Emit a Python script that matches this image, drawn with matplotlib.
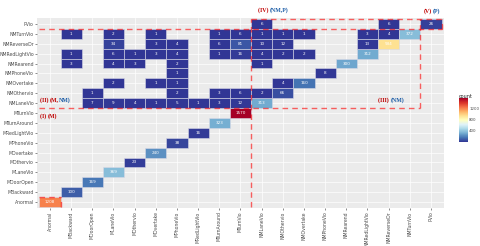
import matplotlib
matplotlib.use("Agg")
import matplotlib.pyplot as plt
import pandas as pd
from matplotlib.colors import Normalize
from matplotlib.cm import ScalarMappable

categories = ["Anormal", "MBackward", "MDoorOpen", "MLaneVio", "MOthervio", "MOvertake",
              "MPhoneVio", "MRedLightVio", "MTurnAround", "MTurnVio", "NMLaneVio",
              "NMOthervio", "NMOvertake", "NMPhoneVio", "NMRearend", "NMRedLightVio",
              "NMReverseDr", "NMTurnVio", "PVio"]

# one entry per filled tile: row (y) category, column (x) category, count
cell_y = (["Anormal", "MBackward", "MDoorOpen", "MLaneVio", "MOthervio", "MOvertake",
           "MPhoneVio", "MRedLightVio", "MTurnAround", "MTurnVio"]
          + ["NMLaneVio"] * 9
          + ["NMOthervio"] * 6
          + ["NMOvertake"] * 5
          + ["NMPhoneVio"] * 2
          + ["NMRearend"] * 6
          + ["NMRedLightVio"] * 11
          + ["NMReverseDr"] * 9
          + ["NMTurnVio"] * 11
          + ["PVio"] * 3)
cell_x = (["Anormal", "MBackward", "MDoorOpen", "MLaneVio", "MOthervio", "MOvertake",
           "MPhoneVio", "MRedLightVio", "MTurnAround", "MTurnVio"]
          + ["MDoorOpen", "MLaneVio", "MOthervio", "MOvertake", "MPhoneVio", "MRedLightVio",
             "MTurnAround", "MTurnVio", "NMLaneVio"]
          + ["MDoorOpen", "MPhoneVio", "MTurnAround", "MTurnVio", "NMLaneVio", "NMOthervio"]
          + ["MLaneVio", "MOvertake", "MPhoneVio", "NMOthervio", "NMOvertake"]
          + ["MPhoneVio", "NMPhoneVio"]
          + ["MBackward", "MLaneVio", "MOthervio", "MPhoneVio", "NMLaneVio", "NMRearend"]
          + ["MBackward", "MLaneVio", "MOthervio", "MOvertake", "MPhoneVio", "MTurnAround",
             "MTurnVio", "NMLaneVio", "NMOthervio", "NMOvertake", "NMRedLightVio"]
          + ["MLaneVio", "MOvertake", "MPhoneVio", "MTurnAround", "MTurnVio", "NMLaneVio",
             "NMOthervio", "NMRedLightVio", "NMReverseDr"]
          + ["MBackward", "MLaneVio", "MOvertake", "MTurnAround", "MTurnVio", "NMLaneVio",
             "NMOthervio", "NMOvertake", "NMRedLightVio", "NMReverseDr", "NMTurnVio"]
          + ["NMLaneVio", "NMReverseDr", "PVio"])
cell_count = ([1208, 100, 169, 369, 23, 240, 38, 16, 323, 1570]
              + [7, 9, 4, 1, 5, 1, 3, 12, 313]
              + [1, 2, 3, 6, 2, 66]
              + [2, 1, 1, 4, 160]
              + [1, 8]
              + [3, 4, 3, 2, 1, 300]
              + [1, 6, 1, 3, 4, 1, 16, 4, 2, 2, 312]
              + [34, 3, 4, 6, 81, 10, 12, 13, 934]
              + [1, 2, 1, 1, 6, 1, 1, 1, 3, 4, 372]
              + [6, 6, 26])

df = pd.DataFrame({"y": cell_y, "x": cell_x, "count": cell_count})
pos = {c: i for i, c in enumerate(categories)}
df["xi"] = df["x"].map(pos)
df["yi"] = df["y"].map(pos)

cmap = plt.get_cmap("RdYlBu_r")
norm = Normalize(vmin=1, vmax=1570)

fig = plt.figure(figsize=(4.8, 2.46), dpi=100)
ax = fig.add_axes([37.3 / 480, 1 - 208 / 246, 406.4 / 480, 190 / 246])
ax.set_facecolor("#EBEBEB")

ax.bar(df["xi"], 1, bottom=df["yi"] - 0.5, width=1,
       color=cmap(norm(df["count"])), edgecolor="#d9d9e6", linewidth=0.4, zorder=2)
for _, r in df.iterrows():
    ax.text(r["xi"], r["yi"], str(r["count"]), ha="center", va="center",
            fontsize=3, color="white", zorder=3)

n = len(categories)
ax.set_xlim(-0.6, n - 0.4)
ax.set_ylim(-0.6, n - 0.4)
ax.set_xticks(range(n))
ax.set_yticks(range(n))
ax.set_xticklabels(categories, rotation=90, fontsize=3.3, color="#4D4D4D")
ax.set_yticklabels(categories, fontsize=3.3, color="#4D4D4D")
ax.tick_params(length=1.5, width=0.4, color="#333333", pad=1)
ax.grid(True, color="white", linewidth=0.5, zorder=0)
ax.set_axisbelow(True)
for s in ax.spines.values():
    s.set_visible(False)

# dashed region boundaries
dash = dict(color="red", alpha=0.6, linewidth=1.0, linestyle=(0, (4, 3)), zorder=4, clip_on=False)
ax.plot([-0.5, 18.5], [17.5, 17.5], **dash)
ax.plot([-0.5, 17.5], [9.5, 9.5], **dash)
ax.plot([9.5, 9.5], [-0.5, 18.5], **dash)
ax.plot([17.5, 17.5], [9.5, 18.5], **dash)
ax.plot([9.5, 18.5], [18.5, 18.5], **dash)
ax.plot([18.5, 18.5], [17.5, 18.5], **dash)
ax.plot([-0.5, 0.5], [0.5, 0.5], **dash)
ax.plot([0.5, 0.5], [-0.5, 0.5], **dash)

red = "#C00000"
blue = "#1F5FA8"
font = dict(fontsize=4.2, fontweight="bold", family="Liberation Serif", zorder=5)


def label(x, y, parts):
    t = None
    for s, c in parts:
        if t is None:
            t = ax.text(x, y, s, color=c, ha="left", va="center", **font)
        else:
            t = ax.annotate(s, xy=(1, 0), xycoords=t, color=c, ha="left", va="bottom",
                            annotation_clip=False, **font)


label(-0.47, 8.7, [("(I) ", red), ("(M)", red)])
label(-0.47, 10.3, [("(II) ", red), ("(M,", red), ("NM)", blue)])
label(15.5, 10.3, [("(III) ", red), ("(NM)", blue)])
label(9.83, 19.4, [("(IV) ", red), ("(NM,P)", blue)])
label(17.67, 19.3, [("(V)", red), ("(P)", blue)])

cax = fig.add_axes([459 / 480, 1 - 142 / 246, 9 / 480, 44 / 246])
cb = fig.colorbar(ScalarMappable(norm=norm, cmap=cmap), cax=cax)
cb.outline.set_visible(False)
cb.set_ticks([400, 800, 1200])
cb.ax.tick_params(labelsize=2.8, length=0, pad=0.8, labelcolor="#4D4D4D")
fig.text(459 / 480, 1 - 96 / 246, "count", fontsize=3.5, color="#222222", ha="left", va="center")

fig.savefig("out.png", dpi=100)
